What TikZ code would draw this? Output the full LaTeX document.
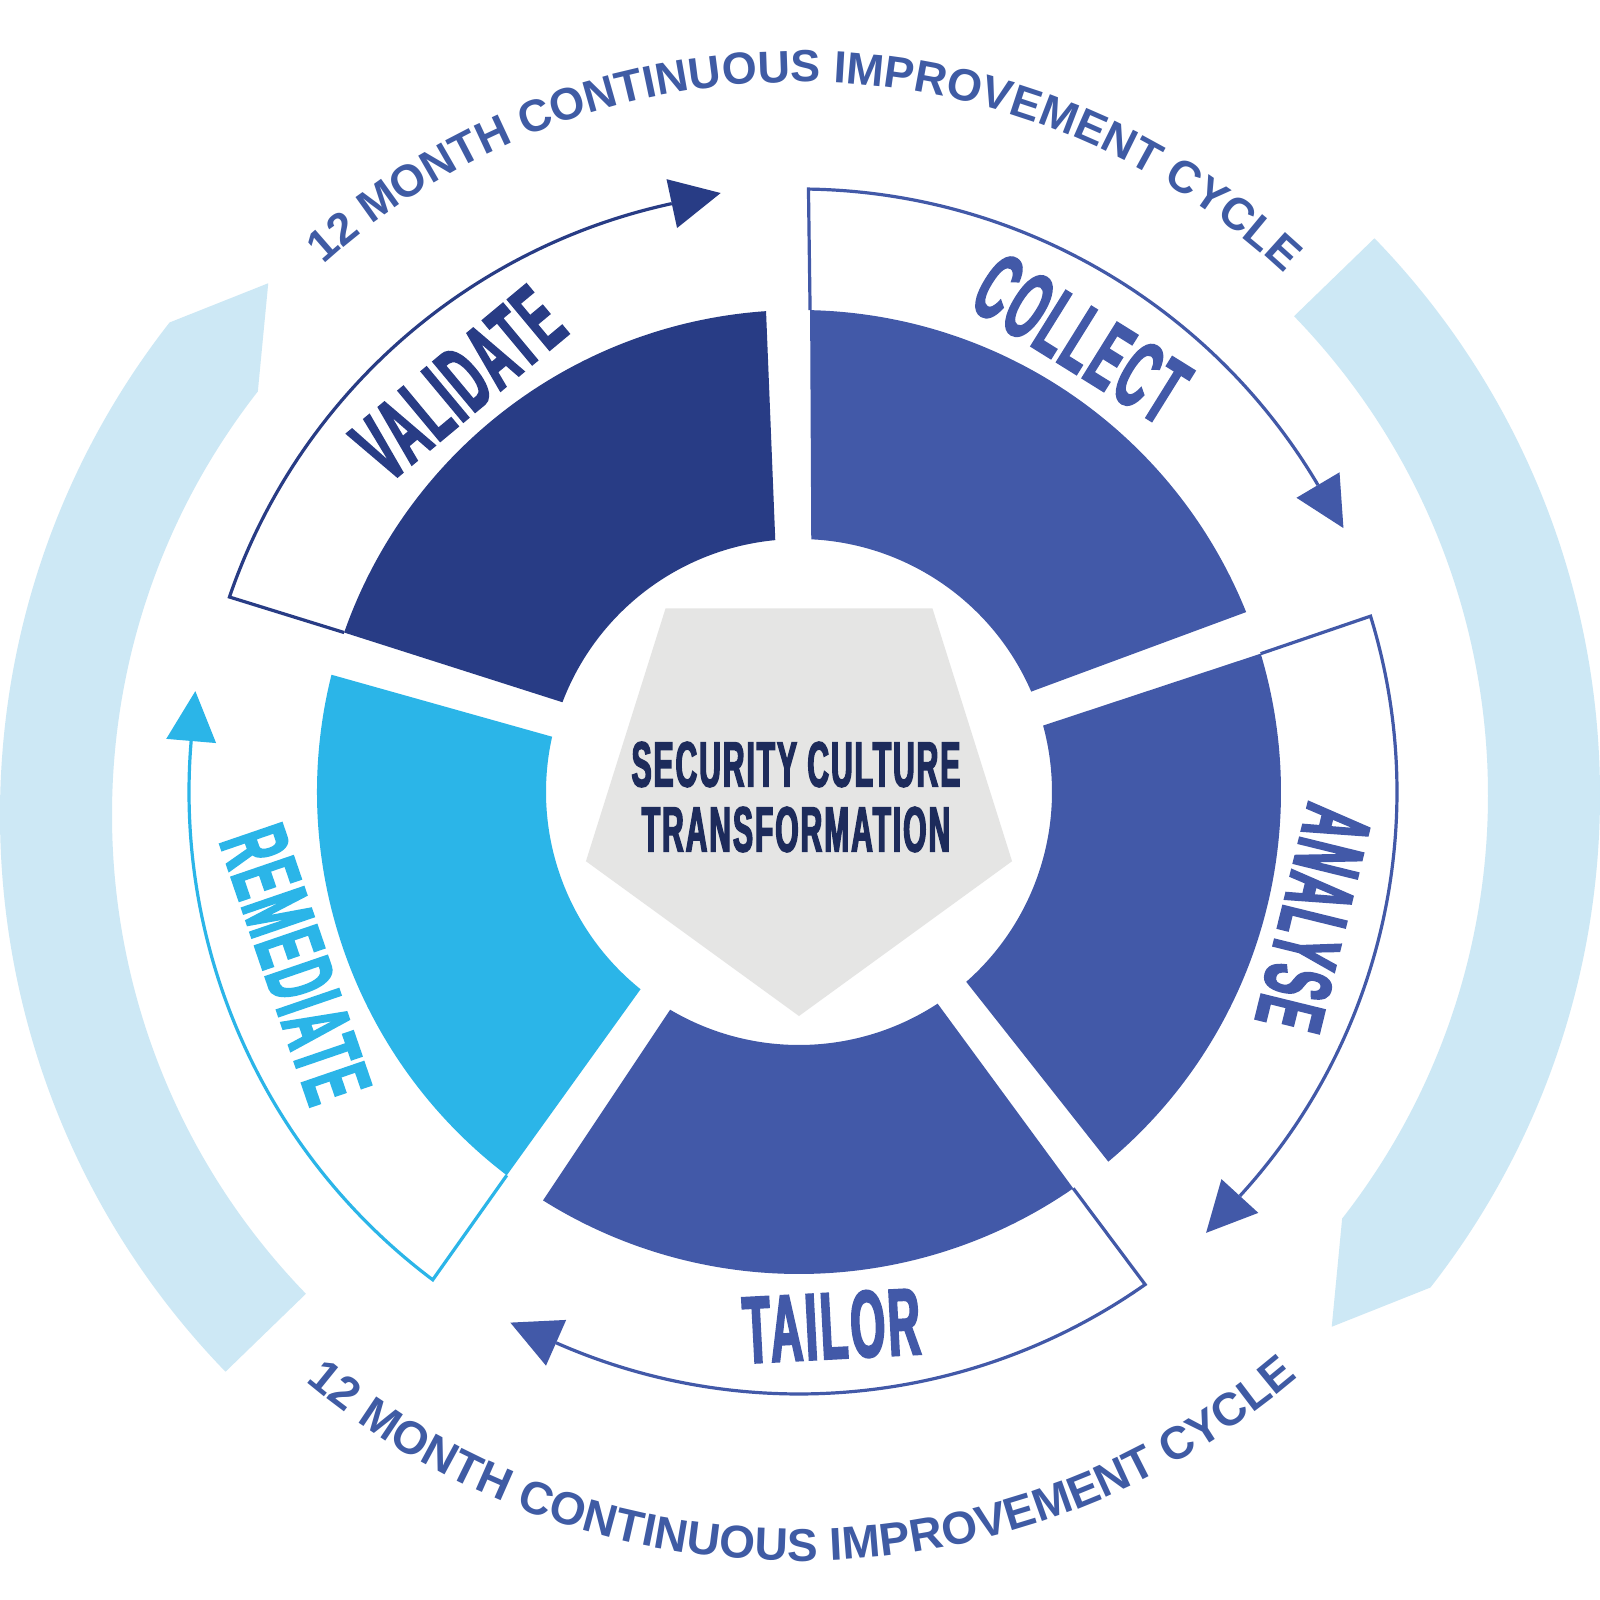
\documentclass[tikz,border=0pt]{standalone}
\usepackage{fontspec}
\setmainfont{Liberation Sans}
\newfontfamily\condfont[FakeStretch=0.47,FakeBold=2.2,LetterSpace=3]{Liberation Sans}
\newfontfamily\arcfont{Liberation Sans}
\usetikzlibrary{calc,decorations.text}
\definecolor{navy}{HTML}{283C85}
\definecolor{midblue}{HTML}{4259A8}
\definecolor{skyblue}{HTML}{2BB5E8}
\definecolor{paleblue}{HTML}{CDE8F5}
\definecolor{coregray}{HTML}{E5E5E4}
\definecolor{coretext}{HTML}{1D2B5B}
\definecolor{arcblue}{HTML}{3F5BA4}
\newcommand\ringseg[2]{%
 \pgfmathsetmacro\segoa{#1-2.62}\pgfmathsetmacro\segob{#1-72+2.62}%
 \pgfmathsetmacro\segia{#1-4.08}\pgfmathsetmacro\segib{#1-72+4.08}%
 \fill[#2] (\segoa:482pt) arc[start angle=\segoa, end angle=\segob, radius=482pt]
   -- (\segib:253pt) arc[start angle=\segib, end angle=\segia, radius=253pt] -- cycle;}
\newcommand\flowarrow[4]{%
 \pgfmathsetmacro\fsa{#1-2.62}\pgfmathsetmacro\fea{#1-2.2}%
 \pgfmathsetmacro\fro{#3+25}\pgfmathsetmacro\fri{#3-25}\pgfmathsetmacro\ftd{#2-90}%
 \draw[#4, line width=3.2pt] (\fsa:482pt) -- (\fea:#3pt) arc[start angle=\fea, end angle=#2, radius=#3pt];
 \fill[#4] ($(#2:#3pt)+(\ftd:50pt)$) -- (#2:\fro pt) -- (#2:\fri pt) -- cycle;}
\newcommand\bigarrowpath{(224.1:800pt) arc[start angle=224.1, end angle=142, radius=800pt]
   -- (135:752pt) -- (142:688pt) arc[start angle=142, end angle=224.1, radius=688pt] -- cycle}
\tikzset{
 lbl/.style={font=\condfont\bfseries\fontsize{95}{95}\selectfont, inner sep=0pt},
 arctext/.style 2 args={decorate, decoration={text along path, text align=center, text={|\arcfont\bfseries\fontsize{#1}{#1}\selectfont\color{arcblue}|#2}}}
}
\begin{document}
\begin{tikzpicture}
\useasboundingbox (-799pt,-808pt) rectangle (801pt,792pt);
\fill[white] (-799pt,-808pt) rectangle (801pt,792pt);
% big pale arrows
\begin{scope}[shift={(1pt,-23pt)}]
 \fill[paleblue] \bigarrowpath;
\end{scope}
\begin{scope}[shift={(1pt,-3pt)}, rotate=180]
 \fill[paleblue] \bigarrowpath;
\end{scope}
% outline arrows
\flowarrow{163.3}{102.2}{602}{navy}
\flowarrow{91.3}{30.6}{603}{midblue}
\flowarrow{19.3}{-42.5}{598}{midblue}
\flowarrow{-52.7}{-113.8}{602}{midblue}
\flowarrow{-124.7}{-184.8}{610}{skyblue}
% ring segments
\ringseg{163.3}{navy}
\ringseg{91.3}{midblue}
\ringseg{19.3}{midblue}
\ringseg{-52.7}{midblue}
\ringseg{-124.7}{skyblue}
% pentagon
\fill[coregray] (-90:224pt) -- (-18:224pt) -- (54:227pt) -- (126:227pt) -- (198:224pt) -- cycle;
\node[font=\condfont\bfseries\fontsize{64}{65}\selectfont, align=center, text=coretext, inner sep=0pt] (core) at (-3pt,-5pt) {SECURITY CULTURE\\TRANSFORMATION};
% labels
\node[lbl, text=navy, rotate=39.8] (validate) at (129.8:532pt) {VALIDATE};
\node[lbl, text=midblue, rotate=-31.9] (collect) at (58.1:534pt) {COLLECT};
\node[lbl, text=midblue, rotate=-103.8] (analyse) at (-13.8:530pt) {ANALYSE};
\node[lbl, text=midblue, rotate=3] (tailor) at (-86.5:535pt) {TAILOR};
\node[lbl, text=skyblue, rotate=-71.1] (remediate) at (-161.1:532pt) {REMEDIATE};
% curved texts
\path[arctext={45}{12 MONTH CONTINUOUS IMPROVEMENT CYCLE}] (134.5:710pt) arc[start angle=134.5, end angle=44.5, radius=710pt];
\path[arctext={46}{12 MONTH CONTINUOUS IMPROVEMENT CYCLE}] (-134.75:769pt) arc[start angle=-134.75, end angle=-44.75, radius=769pt];
\end{tikzpicture}
\end{document}
